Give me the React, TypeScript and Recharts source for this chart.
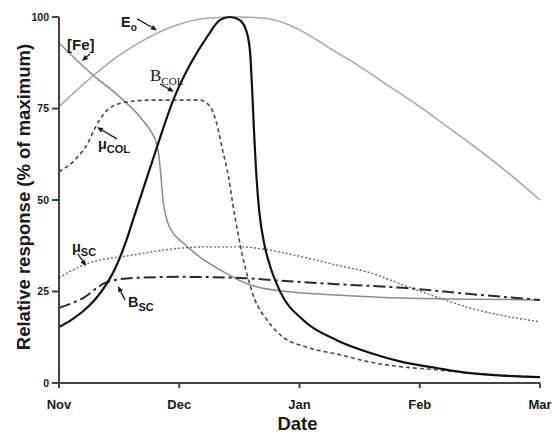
import React from 'react';
import { LineChart, Line, XAxis, YAxis, ReferenceLine, ReferenceDot, Label } from 'recharts';

// x axis: months since 1 Nov
const monthTicks = [0, 1, 2, 3, 4];
const monthLabels = ['Nov', 'Dec', 'Jan', 'Feb', 'Mar'];
const yTicks = [0, 25, 50, 75, 100];

// E_o
const eoMonths = [0, 0.25, 0.5, 0.75, 1, 1.25, 1.5, 1.75, 2, 2.25, 2.5, 2.75, 3, 3.25, 3.5, 3.75, 4];
const eoValues = [75.5, 83, 89.5, 94.5, 98, 99.7, 100, 99.5, 96.5, 91.5, 86.5, 81, 75.5, 69.5, 63.5, 57, 50];

// [Fe]
const feMonths = [0, 0.28, 0.507, 0.674, 0.757, 0.815, 0.832, 0.848, 0.865, 0.898, 0.948, 1.031, 1.173, 1.339, 1.59, 1.92, 2.34, 2.86, 3.4, 4];
const feValues = [92.9, 84.2, 78.1, 72.7, 69.1, 65.0, 61.7, 56.3, 50.0, 44.5, 41.0, 38.3, 34.4, 30.9, 26.8, 24.9, 24.0, 23.2, 22.9, 22.7];

// B_COL
const bColMonths = [0, 0.1, 0.2, 0.3, 0.4, 0.47, 0.55, 0.63, 0.81, 0.95, 1.09, 1.23, 1.34, 1.42, 1.5, 1.56, 1.59, 1.605, 1.62, 1.645, 1.665, 1.71, 1.75, 1.84, 2.03, 2.31, 2.59, 2.86, 3.14, 3.42, 4];
const bColValues = [15.3, 17.2, 19.6, 22.8, 27.3, 31.5, 38, 46, 64, 77.3, 87, 94.5, 99.2, 100, 99.2, 96, 90, 81, 70, 55, 47, 37.5, 32.5, 24.9, 17.2, 11.7, 8.2, 5.7, 4.1, 2.7, 1.6];

// mu_COL
const muColMonths = [0, 0.13, 0.24, 0.3, 0.38, 0.52, 0.76, 1.0, 1.17, 1.26, 1.31, 1.36, 1.41, 1.44, 1.51, 1.56, 1.63, 1.73, 1.86, 2.06, 2.34, 2.59, 2.86, 3.14, 3.42, 4];
const muColValues = [57.7, 60.9, 65.6, 69.7, 73.8, 76.5, 77.3, 77.3, 77.3, 75.4, 71.0, 63.7, 56.3, 50, 37.2, 30.1, 22.7, 17.2, 12.6, 9.8, 7.7, 5.7, 4.4, 3.6, 2.7, 1.6];

// mu_SC
const muScMonths = [0, 0.2, 0.62, 1.03, 1.23, 1.51, 1.75, 2.03, 2.31, 2.59, 2.86, 3.14, 3.42, 4];
const muScValues = [28.7, 32.2, 35.0, 36.9, 37.2, 37.2, 36.3, 34.4, 32.2, 30.1, 26.8, 23.5, 20.5, 16.7];

// B_SC
const bScMonths = [0, 0.2, 0.4, 0.62, 1.03, 1.51, 1.78, 2.31, 2.86, 3.42, 4];
const bScValues = [20.5, 23.2, 27.6, 28.7, 29.0, 28.7, 28.1, 27.0, 26.0, 24.3, 22.7];

const toPoints = (months: number[], values: number[]) =>
  months.map((m, i) => ({ m, v: values[i] }));

// curve labels: main text, subscript, anchor (months, %)
const curveLabels = [
  { main: 'E', sub: 'o', m: 0.516, v: 97.3, serif: false },
  { main: '[Fe]', sub: '', m: 0.067, v: 91.0, serif: false },
  { main: 'B', sub: 'COL', m: 0.757, v: 82.5, serif: true },
  { main: 'μ', sub: 'COL', m: 0.324, v: 64.0, serif: false },
  { main: 'μ', sub: 'SC', m: 0.108, v: 35.8, serif: false },
  { main: 'B', sub: 'SC', m: 0.574, v: 20.8, serif: false },
];

// label arrows: from -> to (months, %)
const labelArrows = [
  { m1: 0.649, v1: 99.5, m2: 0.815, v2: 96.4 },
  { m1: 0.258, v1: 89.9, m2: 0.191, v2: 88.0 },
  { m1: 0.84, v1: 81.7, m2: 0.955, v2: 79.6 },
  { m1: 0.482, v1: 66.7, m2: 0.316, v2: 69.9 },
  { m1: 0.158, v1: 35.2, m2: 0.225, v2: 32.0 },
  { m1: 0.549, v1: 22.7, m2: 0.49, v2: 26.5 },
];

const SANS = '"Liberation Sans", Arial, sans-serif';
const SERIF = '"Liberation Serif", "Times New Roman", serif';

const ArrowShape = (props: any) => {
  const { x1, y1, x2, y2 } = props;
  if ([x1, y1, x2, y2].some((n) => typeof n !== 'number' || isNaN(n))) return null;
  const ang = Math.atan2(y2 - y1, x2 - x1);
  const len = 6;
  const w = 2.6;
  const bx = x2 - len * Math.cos(ang);
  const by = y2 - len * Math.sin(ang);
  const p1 = `${bx + w * Math.sin(ang)},${by - w * Math.cos(ang)}`;
  const p2 = `${bx - w * Math.sin(ang)},${by + w * Math.cos(ang)}`;
  return (
    <g>
      <line x1={x1} y1={y1} x2={bx} y2={by} stroke="#1a1a1a" strokeWidth={1.3} />
      <polygon points={`${x2},${y2} ${p1} ${p2}`} fill="#1a1a1a" />
    </g>
  );
};

const makeLabelShape = (lab: (typeof curveLabels)[number]) => (props: any) => {
  const { cx, cy } = props;
  if (typeof cx !== 'number') return null;
  if (lab.serif) {
    return (
      <text x={cx} y={cy} fontFamily={SERIF} fill="#1a1a1a">
        <tspan fontSize={17}>{lab.main}</tspan>
        <tspan fontSize={11} dy={4}>{lab.sub}</tspan>
      </text>
    );
  }
  return (
    <text x={cx} y={cy} fontFamily={SANS} fontWeight="bold" fill="#1a1a1a">
      <tspan fontSize={lab.main === '[Fe]' ? 15 : 14.5}>{lab.main}</tspan>
      {lab.sub ? <tspan fontSize={lab.sub === 'o' ? 10 : 11} dy={4}>{lab.sub}</tspan> : null}
    </text>
  );
};

const YTitle = (props: any) => {
  const vb = props.viewBox || { x: 0, y: 17, width: 59, height: 366 };
  const x = vb.x + 30;
  const y = vb.y + vb.height / 2 - 3;
  return (
    <text x={x} y={y} transform={`rotate(-90 ${x} ${y})`} textAnchor="middle" fontFamily={SANS} fontWeight="bold" fontSize={18.5} fill="#1a1a1a">
      Relative response (% of maximum)
    </text>
  );
};

const XTitle = (props: any) => {
  const vb = props.viewBox || { x: 59, y: 383, width: 481, height: 51 };
  return (
    <text x={vb.x + vb.width / 2 - 2} y={vb.y + 47} textAnchor="middle" fontFamily={SANS} fontWeight="bold" fontSize={18.5} fill="#1a1a1a">
      Date
    </text>
  );
};

const tickStyle = { fill: '#1a1a1a', fontFamily: SANS, fontWeight: 'bold' } as const;

export default function App() {
  return (
    <div style={{ position: 'absolute', left: 0, top: 0, width: 553, height: 434, background: '#fff' }}>
      <LineChart width={553} height={434} margin={{ top: 17, right: 13, left: 0, bottom: 0 }}>
        <XAxis
          type="number"
          dataKey="m"
          domain={[0, 4]}
          ticks={monthTicks}
          tickFormatter={(t: number) => monthLabels[t] ?? ''}
          height={51}
          stroke="#444"
          strokeWidth={2}
          tickSize={5}
          tickMargin={12}
          tick={{ ...tickStyle, fontSize: 13 }}
          interval={0}
        >
          <Label content={XTitle} />
        </XAxis>
        <YAxis
          type="number"
          domain={[0, 100]}
          ticks={yTicks}
          width={59}
          stroke="#444"
          strokeWidth={2}
          tickSize={7}
          tickMargin={3}
          tick={{ ...tickStyle, fontSize: 10.5 }}
          interval={0}
        >
          <Label content={YTitle} />
        </YAxis>
        <Line data={toPoints(eoMonths, eoValues)} dataKey="v" type="monotone" stroke="#a6a6a6" strokeWidth={1.5} dot={false} isAnimationActive={false} />
        <Line data={toPoints(feMonths, feValues)} dataKey="v" type="monotone" stroke="#8a8a8a" strokeWidth={1.5} dot={false} isAnimationActive={false} />
        <Line data={toPoints(muScMonths, muScValues)} dataKey="v" type="monotone" stroke="#6a6a6a" strokeWidth={1.4} strokeDasharray="2 2" dot={false} isAnimationActive={false} />
        <Line data={toPoints(bScMonths, bScValues)} dataKey="v" type="monotone" stroke="#2a2a2a" strokeWidth={2} strokeDasharray="12 4 3 4" dot={false} isAnimationActive={false} />
        <Line data={toPoints(muColMonths, muColValues)} dataKey="v" type="monotone" stroke="#4a4a4a" strokeWidth={1.6} strokeDasharray="4 3" dot={false} isAnimationActive={false} />
        <Line data={toPoints(bColMonths, bColValues)} dataKey="v" type="monotone" stroke="#111" strokeWidth={2.2} dot={false} isAnimationActive={false} />
        {labelArrows.map((a, i) => (
          <ReferenceLine key={`arrow-${i}`} segment={[{ x: a.m1, y: a.v1 }, { x: a.m2, y: a.v2 }]} shape={ArrowShape} ifOverflow="visible" />
        ))}
        {curveLabels.map((lab, i) => (
          <ReferenceDot key={`lab-${i}`} x={lab.m} y={lab.v} shape={makeLabelShape(lab)} ifOverflow="visible" />
        ))}
      </LineChart>
    </div>
  );
}
